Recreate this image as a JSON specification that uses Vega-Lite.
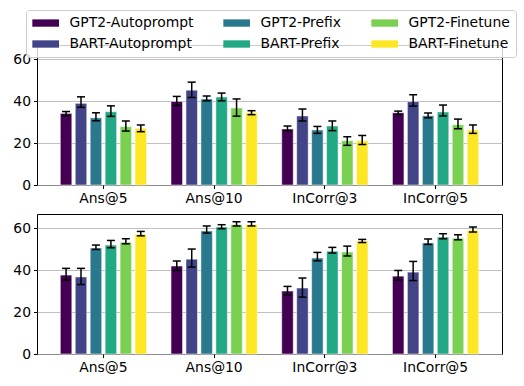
{
  "$schema": "https://vega.github.io/schema/vega-lite/v6.json",
  "padding": {"left": 12, "top": 9, "right": 5, "bottom": 5},
  "data": {"values": [
    {"panel":"top","metric":"Ans@5","model":"GPT2-Autoprompt","score":34.1,"lo":33.0,"hi":35.0},
    {"panel":"top","metric":"Ans@5","model":"BART-Autoprompt","score":38.9,"lo":37.0,"hi":42.0},
    {"panel":"top","metric":"Ans@5","model":"GPT2-Prefix","score":32.0,"lo":30.6,"hi":34.4},
    {"panel":"top","metric":"Ans@5","model":"BART-Prefix","score":34.9,"lo":32.7,"hi":37.7},
    {"panel":"top","metric":"Ans@5","model":"GPT2-Finetune","score":27.8,"lo":25.7,"hi":30.5},
    {"panel":"top","metric":"Ans@5","model":"BART-Finetune","score":27.0,"lo":25.4,"hi":28.6},
    {"panel":"top","metric":"Ans@10","model":"GPT2-Autoprompt","score":39.8,"lo":37.9,"hi":42.2},
    {"panel":"top","metric":"Ans@10","model":"BART-Autoprompt","score":45.2,"lo":41.7,"hi":49.0},
    {"panel":"top","metric":"Ans@10","model":"GPT2-Prefix","score":41.0,"lo":40.1,"hi":42.4},
    {"panel":"top","metric":"Ans@10","model":"BART-Prefix","score":41.9,"lo":40.1,"hi":43.8},
    {"panel":"top","metric":"Ans@10","model":"GPT2-Finetune","score":36.7,"lo":32.8,"hi":41.0},
    {"panel":"top","metric":"Ans@10","model":"BART-Finetune","score":34.4,"lo":33.5,"hi":35.4},
    {"panel":"top","metric":"InCorr@3","model":"GPT2-Autoprompt","score":26.7,"lo":25.9,"hi":28.1},
    {"panel":"top","metric":"InCorr@3","model":"BART-Autoprompt","score":32.9,"lo":30.5,"hi":36.2},
    {"panel":"top","metric":"InCorr@3","model":"GPT2-Prefix","score":26.2,"lo":24.6,"hi":27.9},
    {"panel":"top","metric":"InCorr@3","model":"BART-Prefix","score":28.1,"lo":25.9,"hi":30.5},
    {"panel":"top","metric":"InCorr@3","model":"GPT2-Finetune","score":21.1,"lo":18.9,"hi":23.0},
    {"panel":"top","metric":"InCorr@3","model":"BART-Finetune","score":21.1,"lo":19.3,"hi":23.6},
    {"panel":"top","metric":"InCorr@5","model":"GPT2-Autoprompt","score":34.4,"lo":33.6,"hi":35.2},
    {"panel":"top","metric":"InCorr@5","model":"BART-Autoprompt","score":39.7,"lo":37.6,"hi":43.0},
    {"panel":"top","metric":"InCorr@5","model":"GPT2-Prefix","score":33.0,"lo":32.0,"hi":34.3},
    {"panel":"top","metric":"InCorr@5","model":"BART-Prefix","score":34.8,"lo":32.9,"hi":38.1},
    {"panel":"top","metric":"InCorr@5","model":"GPT2-Finetune","score":28.7,"lo":26.8,"hi":31.4},
    {"panel":"top","metric":"InCorr@5","model":"BART-Finetune","score":26.2,"lo":24.6,"hi":28.6},
    {"panel":"bottom","metric":"Ans@5","model":"GPT2-Autoprompt","score":37.6,"lo":35.2,"hi":40.8},
    {"panel":"bottom","metric":"Ans@5","model":"BART-Autoprompt","score":36.7,"lo":33.1,"hi":40.8},
    {"panel":"bottom","metric":"Ans@5","model":"GPT2-Prefix","score":50.5,"lo":49.8,"hi":51.9},
    {"panel":"bottom","metric":"Ans@5","model":"BART-Prefix","score":51.9,"lo":50.6,"hi":54.1},
    {"panel":"bottom","metric":"Ans@5","model":"GPT2-Finetune","score":53.3,"lo":52.5,"hi":54.9},
    {"panel":"bottom","metric":"Ans@5","model":"BART-Finetune","score":57.1,"lo":56.3,"hi":58.4},
    {"panel":"bottom","metric":"Ans@10","model":"GPT2-Autoprompt","score":41.9,"lo":39.8,"hi":44.3},
    {"panel":"bottom","metric":"Ans@10","model":"BART-Autoprompt","score":45.2,"lo":41.4,"hi":50.0},
    {"panel":"bottom","metric":"Ans@10","model":"GPT2-Prefix","score":58.6,"lo":57.6,"hi":61.0},
    {"panel":"bottom","metric":"Ans@10","model":"BART-Prefix","score":60.5,"lo":59.7,"hi":61.6},
    {"panel":"bottom","metric":"Ans@10","model":"GPT2-Finetune","score":61.6,"lo":61.0,"hi":63.0},
    {"panel":"bottom","metric":"Ans@10","model":"BART-Finetune","score":61.7,"lo":61.0,"hi":63.0},
    {"panel":"bottom","metric":"InCorr@3","model":"GPT2-Autoprompt","score":30.0,"lo":28.1,"hi":32.2},
    {"panel":"bottom","metric":"InCorr@3","model":"BART-Autoprompt","score":31.4,"lo":27.1,"hi":36.2},
    {"panel":"bottom","metric":"InCorr@3","model":"GPT2-Prefix","score":45.7,"lo":44.4,"hi":48.4},
    {"panel":"bottom","metric":"InCorr@3","model":"BART-Prefix","score":49.0,"lo":48.1,"hi":50.8},
    {"panel":"bottom","metric":"InCorr@3","model":"GPT2-Finetune","score":48.6,"lo":46.7,"hi":51.4},
    {"panel":"bottom","metric":"InCorr@3","model":"BART-Finetune","score":53.8,"lo":53.1,"hi":54.6},
    {"panel":"bottom","metric":"InCorr@5","model":"GPT2-Autoprompt","score":37.1,"lo":35.2,"hi":39.8},
    {"panel":"bottom","metric":"InCorr@5","model":"BART-Autoprompt","score":39.0,"lo":35.0,"hi":44.1},
    {"panel":"bottom","metric":"InCorr@5","model":"GPT2-Prefix","score":52.9,"lo":52.2,"hi":54.8},
    {"panel":"bottom","metric":"InCorr@5","model":"BART-Prefix","score":55.7,"lo":54.9,"hi":57.3},
    {"panel":"bottom","metric":"InCorr@5","model":"GPT2-Finetune","score":55.2,"lo":54.4,"hi":56.8},
    {"panel":"bottom","metric":"InCorr@5","model":"BART-Finetune","score":59.0,"lo":58.1,"hi":60.5}
  ]},
  "spacing": 7,
  "vconcat": [
    {
      "width": 465, "height": 140,
      "transform": [{"filter": "datum.panel == 'top'"}],
      "encoding": {
        "x": {"field": "metric", "type": "nominal", "sort": ["Ans@5","Ans@10","InCorr@3","InCorr@5"], "title": null, "scale": {"paddingInner": 0.19, "paddingOuter": 0.195}},
        "xOffset": {"field": "model", "type": "nominal", "sort": ["GPT2-Autoprompt","BART-Autoprompt","GPT2-Prefix","BART-Prefix","GPT2-Finetune","BART-Finetune"], "scale": {"paddingInner": 0, "paddingOuter": 0}}
      },
      "layer": [
        {"mark": {"type": "bar", "width": 11.5, "stroke": "white", "strokeWidth": 0.5},
         "encoding": {"y": {"field": "score", "type": "quantitative", "title": null, "scale": {"domain": [0, 66.7], "nice": false}, "axis": {"values": [0,20,40,60]}},
                      "color": {"field": "model", "type": "nominal", "title": null,
                                "scale": {"domain": ["GPT2-Autoprompt","GPT2-Prefix","GPT2-Finetune","BART-Autoprompt","BART-Prefix","BART-Finetune"],
                                          "range": ["#440154", "#2a788e", "#7ad151", "#414487", "#22a884", "#fde725"]}}}},
        {"mark": {"type": "rule", "color": "black", "strokeWidth": 1.5},
         "encoding": {"y": {"field": "lo", "type": "quantitative", "title": null, "scale": {"domain": [0, 66.7], "nice": false}}, "y2": {"field": "hi"}}},
        {"transform": [{"fold": ["lo", "hi"], "as": ["bound", "bval"]}], "mark": {"type": "tick", "color": "black", "size": 8, "thickness": 1.5, "opacity": 1},
         "encoding": {"y": {"field": "bval", "type": "quantitative", "title": null, "scale": {"domain": [0, 66.7], "nice": false}}}}
      ]
    },
    {
      "width": 465, "height": 140,
      "transform": [{"filter": "datum.panel == 'bottom'"}],
      "encoding": {
        "x": {"field": "metric", "type": "nominal", "sort": ["Ans@5","Ans@10","InCorr@3","InCorr@5"], "title": null, "scale": {"paddingInner": 0.19, "paddingOuter": 0.195}},
        "xOffset": {"field": "model", "type": "nominal", "sort": ["GPT2-Autoprompt","BART-Autoprompt","GPT2-Prefix","BART-Prefix","GPT2-Finetune","BART-Finetune"], "scale": {"paddingInner": 0, "paddingOuter": 0}}
      },
      "layer": [
        {"mark": {"type": "bar", "width": 11.5, "stroke": "white", "strokeWidth": 0.5},
         "encoding": {"y": {"field": "score", "type": "quantitative", "title": null, "scale": {"domain": [0, 66.7], "nice": false}, "axis": {"values": [0,20,40,60]}},
                      "color": {"field": "model", "type": "nominal", "title": null,
                                "scale": {"domain": ["GPT2-Autoprompt","GPT2-Prefix","GPT2-Finetune","BART-Autoprompt","BART-Prefix","BART-Finetune"],
                                          "range": ["#440154", "#2a788e", "#7ad151", "#414487", "#22a884", "#fde725"]}}}},
        {"mark": {"type": "rule", "color": "black", "strokeWidth": 1.5},
         "encoding": {"y": {"field": "lo", "type": "quantitative", "title": null, "scale": {"domain": [0, 66.7], "nice": false}}, "y2": {"field": "hi"}}},
        {"transform": [{"fold": ["lo", "hi"], "as": ["bound", "bval"]}], "mark": {"type": "tick", "color": "black", "size": 8, "thickness": 1.5, "opacity": 1},
         "encoding": {"y": {"field": "bval", "type": "quantitative", "title": null, "scale": {"domain": [0, 66.7], "nice": false}}}}
      ]
    }
  ],
  "resolve": {"scale": {"color": "shared"}},
  "config": {
    "font": "DejaVu Sans",
    "view": {"stroke": "black", "strokeWidth": 1},
    "bar": {"opacity": 1},
    "axis": {"labelFont": "DejaVu Sans", "labelFontSize": 13.9, "labelColor": "black", "tickColor": "black", "tickSize": 3.5, "tickWidth": 1, "domain": false, "labelPadding": 3},
    "axisX": {"grid": false, "labelAngle": 0},
    "axisY": {"grid": true, "gridColor": "#b0b0b0", "gridWidth": 0.8},
    "legend": {
      "orient": "none", "legendX": -11, "legendY": -35, "columns": 3, "direction": "horizontal",
      "symbolType": "M-1,-0.55L3,-0.55L3,0.55L-1,0.55Z", "symbolSize": 178, "symbolStrokeWidth": 0, "symbolOpacity": 1,
      "labelFont": "DejaVu Sans", "labelFontSize": 13.9, "labelColor": "black", "labelOffset": 23.5, "labelLimit": 300,
      "columnPadding": 29, "rowPadding": 7, "padding": 6,
      "strokeColor": "#cccccc", "fillColor": "rgba(255,255,255,0.8)", "cornerRadius": 3
    }
  }
}
